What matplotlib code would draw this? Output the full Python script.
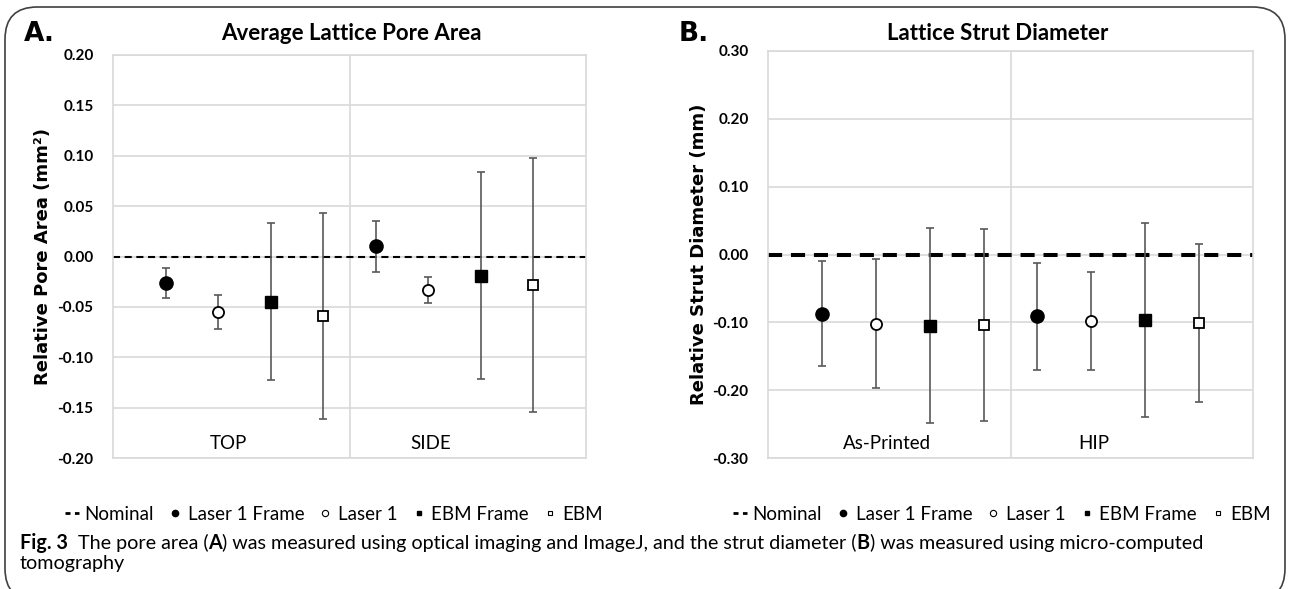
import matplotlib
matplotlib.use("Agg")
import matplotlib.pyplot as plt
from matplotlib.lines import Line2D
from matplotlib.patches import FancyBboxPatch
import numpy as np

# ---------------- data ----------------
series_names = ["Laser 1 Frame", "Laser 1", "EBM Frame", "EBM"]

cats_A = ["TOP", "SIDE"]
laser1_frame_A = [-0.026, 0.010]
laser1_frame_A_err = [0.015, 0.025]
laser1_A = [-0.055, -0.033]
laser1_A_err = [0.017, 0.013]
ebm_frame_A = [-0.045, -0.019]
ebm_frame_A_err = [0.078, 0.103]
ebm_A = [-0.059, -0.028]
ebm_A_err = [0.102, 0.126]
yticks_A = [-0.20, -0.15, -0.10, -0.05, 0.00, 0.05, 0.10, 0.15, 0.20]

cats_B = ["As-Printed", "HIP"]
laser1_frame_B = [-0.087, -0.091]
laser1_frame_B_err = [0.078, 0.079]
laser1_B = [-0.102, -0.098]
laser1_B_err = [0.095, 0.072]
ebm_frame_B = [-0.105, -0.097]
ebm_frame_B_err = [0.144, 0.143]
ebm_B = [-0.104, -0.101]
ebm_B_err = [0.141, 0.117]
yticks_B = [-0.30, -0.20, -0.10, 0.00, 0.10, 0.20, 0.30]

nominal = 0.0

# ---------------- figure ----------------
W, H = 1290, 589
fig = plt.figure(figsize=(W / 100, H / 100), dpi=100)

def ax_rect(l, r, t, b):
    return [l / W, 1 - b / H, (r - l) / W, (b - t) / H]

axA = fig.add_axes(ax_rect(113, 586, 55, 458))
axB = fig.add_axes(ax_rect(768, 1253, 51, 458))

styles = [
    dict(marker="o", mfc="black", mec="black", ms=9.5, mew=1.0),
    dict(marker="o", mfc="white", mec="black", ms=8.0, mew=1.3),
    dict(marker="s", mfc="black", mec="black", ms=8.5, mew=1.0),
    dict(marker="s", mfc="white", mec="black", ms=7.5, mew=1.3),
]
GRID = "#d9d9d9"
ERR = "#595959"
TICKFONT = dict(family="Lato", weight="bold", size=11)


def draw_panel(ax, cats, vals, errs, yticks, ylim, ylabel, dash_lw, dash_pat, cat_y):
    n = len(series_names)
    for g, cat in enumerate(cats):
        for s in range(n):
            x = g * n + s + 1
            ax.errorbar([x], [vals[s][g]], yerr=[errs[s][g]], fmt="none",
                        ecolor=ERR, elinewidth=1.2, capsize=3.2, capthick=1.2, zorder=3)
            ax.plot([x], [vals[s][g]], linestyle="none", zorder=4, **styles[s])
    ax.set_xlim(0, 2 * n + 1)
    ax.set_ylim(*ylim)
    ax.axhline(nominal, color="black", lw=dash_lw, dashes=dash_pat, zorder=2)
    ax.axvline(n + 0.5, color=GRID, lw=1.2, zorder=1)
    ax.set_yticks(yticks)
    ax.set_yticklabels([f"{t:.2f}" for t in yticks], fontdict=TICKFONT)
    ax.yaxis.grid(True, color=GRID, lw=1.2, zorder=0)
    ax.set_xticks([])
    ax.tick_params(axis="y", length=0, pad=14)
    for sp in ax.spines.values():
        sp.set_color(GRID)
        sp.set_linewidth(1.2)
    ax.set_axisbelow(True)
    for g, cat in enumerate(cats):
        ax.text(g * n + 2.2 - 0.15 * g, cat_y, cat, ha="center", va="center",
                fontsize=13.5, family="Lato")
    ax.set_ylabel(ylabel, family="DejaVu Sans", weight="bold", fontsize=13)


draw_panel(axA, cats_A,
           [laser1_frame_A, laser1_A, ebm_frame_A, ebm_A],
           [laser1_frame_A_err, laser1_A_err, ebm_frame_A_err, ebm_A_err],
           yticks_A, (-0.20, 0.20), "Relative Pore Area (mm²)", 1.5, (3.4, 2.2), -0.186)
draw_panel(axB, cats_B,
           [laser1_frame_B, laser1_B, ebm_frame_B, ebm_B],
           [laser1_frame_B_err, laser1_B_err, ebm_frame_B_err, ebm_B_err],
           yticks_B, (-0.30, 0.30), "Relative Strut Diameter (mm)", 2.9, (3.5, 2.2), -0.278)
axA.yaxis.set_label_coords(-0.13, 0.5)
axB.yaxis.set_label_coords(-0.123, 0.5)

# titles and panel letters
fig.text(351 / W, 1 - 33 / H, "Average Lattice Pore Area", ha="center", va="center",
         family="Lato", weight="bold", fontsize=16)
fig.text(998 / W, 1 - 33 / H, "Lattice Strut Diameter", ha="center", va="center",
         family="Lato", weight="bold", fontsize=16)
fig.text(24 / W, 1 - 34 / H, "A.", ha="left", va="center",
         family="DejaVu Sans", weight="bold", fontsize=19)
fig.text(679 / W, 1 - 34 / H, "B.", ha="left", va="center",
         family="DejaVu Sans", weight="bold", fontsize=19)

# legends
def make_handles():
    hs = [Line2D([], [], color="black", lw=2.0, dashes=(1.8, 1.6))]
    small = [dict(marker="o", mfc="black", mec="black", ms=4.5),
             dict(marker="o", mfc="white", mec="black", ms=4.5, mew=0.8),
             dict(marker="s", mfc="black", mec="black", ms=3.5),
             dict(marker="s", mfc="white", mec="black", ms=3.5, mew=0.8)]
    for st in small:
        hs.append(Line2D([], [], linestyle="none", **st))
    return hs

labels = ["Nominal"] + series_names
for cx in (334, 1002):
    fig.legend(make_handles(), labels, loc="center", bbox_to_anchor=(cx / W, 1 - 514 / H),
               ncol=5, frameon=False, handlelength=0.75, handletextpad=0.3,
               columnspacing=0.75, prop=dict(family="Lato", size=13.5))

# border
fig.patches.append(FancyBboxPatch((5 / W, -0.02), 1280 / W, (H - 7) / H + 0.02,
                                  boxstyle="round,pad=0,rounding_size=0.025",
                                  transform=fig.transFigure, fill=False,
                                  ec="#404040", lw=1.2, figure=fig,
                                  mutation_aspect=W / H))

# caption built from pieces
fig.canvas.draw()
renderer = fig.canvas.get_renderer()

line1 = [("Fig. 3", True), ("  The pore area (", False), ("A", True),
         (") was measured using optical imaging and ImageJ, and the strut diameter (", False),
         ("B", True), (") was measured using micro-computed", False)]

def write_line(pieces, x0, y, size):
    x = x0
    arts = []
    for txt, bold in pieces:
        t = fig.text(x / W, 1 - y / H, txt, ha="left", va="center",
                     weight="bold" if bold else "normal", family="Lato", fontsize=size)
        bb = t.get_window_extent(renderer)
        x += bb.width
        arts.append(t)
    return x - x0, arts

w, arts = write_line(line1, 20, 543, 12)
for a in arts:
    a.remove()
size = 12 * 1181 / w
write_line(line1, 20, 543, size)
write_line([("tomography", False)], 20, 563, size)

fig.savefig("out.png", dpi=100)
